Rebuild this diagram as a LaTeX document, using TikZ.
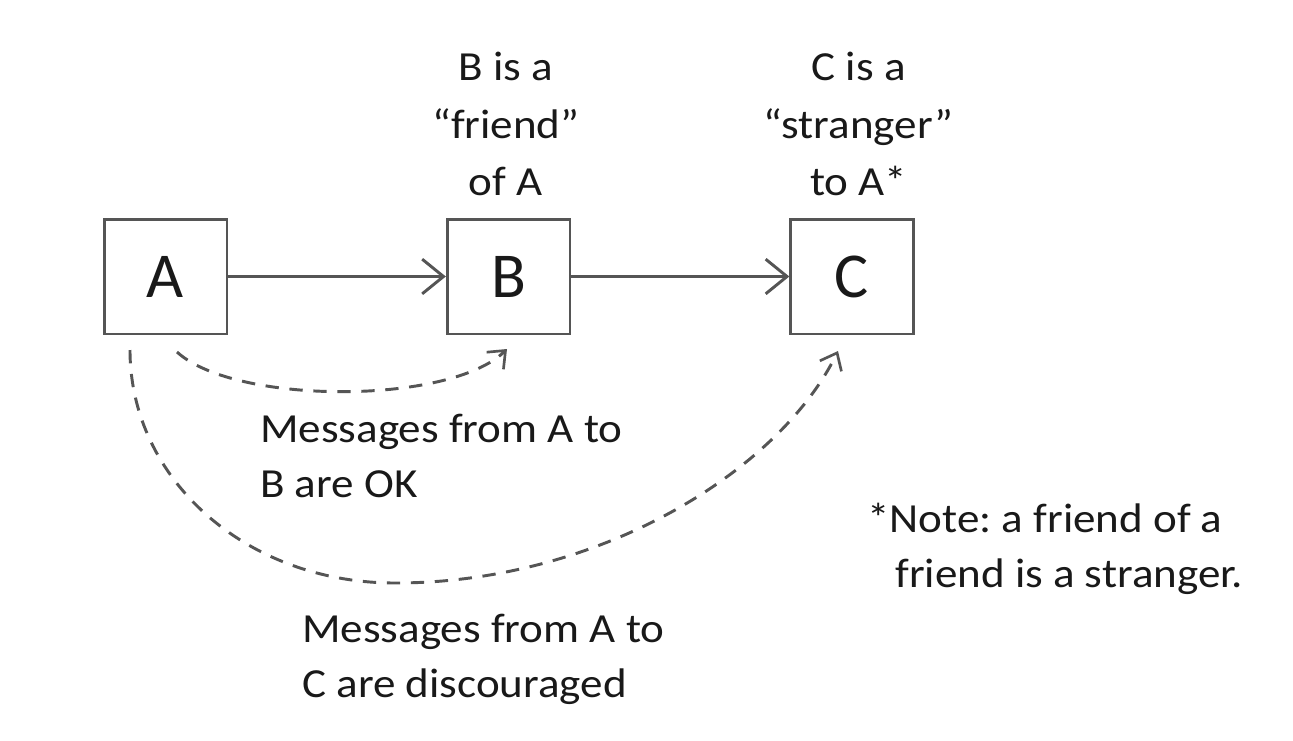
\documentclass[tikz,border=0pt]{standalone}
\usepackage{fontspec}
\setmainfont{Carlito}
\newfontfamily\labelfont{Carlito}[FakeStretch=1.09]
\usepackage{tikz}
\usetikzlibrary{arrows.meta,positioning}
\definecolor{linegray}{RGB}{85,85,85}
\definecolor{textgray}{RGB}{25,25,25}
\tikzset{
    person/.style={draw=linegray,line width=2pt,fill=white,minimum width=92pt,minimum height=86pt,inner sep=0pt,font=\fontsize{48}{52}\selectfont,text=textgray},
    lbl/.style={inner sep=0.75pt,font=\labelfont\fontsize{31}{#1}\selectfont,text=textgray},
    lbl/.default=43pt,
    solidarrow/.style={draw=linegray,line width=2.6pt,-{Straight Barb[length=16pt,width=26pt,line width=2.2pt]}},
    dasharrow/.style={draw=linegray,line width=2.2pt,dash pattern={on 10pt off 8pt},-{Straight Barb[length=11pt,width=18pt,line width=2pt]}}
}
\begin{document}
\frenchspacing
\begin{tikzpicture}[x=0.75pt,y=0.75pt,yscale=-1,xscale=1]
%set diagram to the size of the reference
\path[use as bounding box,fill=white] (0,0) rectangle (1293,740);

%Boxes
\node[person] (A) at (165.5,276.5) {A};
\node[person] (B) at (508.5,276.5) {B};
\node[person] (C) at (852,276.5) {C};

%Straight Lines
\draw[solidarrow] (A) -- (B);
\draw[solidarrow] (B) -- (C);

%Curve Lines
\coordinate (a1) at (177,352);
\coordinate (a2) at (130,350);
\coordinate (low) at (395,583);
\coordinate (b1) at (507,349);
\coordinate (c1) at (838,351);
\draw[dasharrow] (a1) .. controls (235,405) and (450,405) .. (b1);
\draw[dasharrow] (a2) .. controls (130,479) and (246,583) .. (low) .. controls (600,583) and (780,470) .. (c1);

% Text Node
\node[lbl,align=center,above=15.5pt of B,xshift=-2pt] (friend) {B is a\\“friend”\\of A};
% Text Node
\node[lbl,align=center,above=15.5pt of C,xshift=5pt] (stranger) {C is a\\“stranger”\\to A*};
% Text Node
\node[lbl=41pt,align=left,anchor=base west] (okmsg) at (259,497) {Messages from A to\\B are OK};
% Text Node
\node[lbl=41pt,align=left,anchor=base west] (badmsg) at (301,697) {Messages from A to\\C are discouraged};
% Text Node
\node[lbl=41pt,align=left,anchor=base west] (note) at (866,587) {*Note: a friend of a\\\hspace*{0.68em}friend is a stranger.};

\end{tikzpicture}
\end{document}
